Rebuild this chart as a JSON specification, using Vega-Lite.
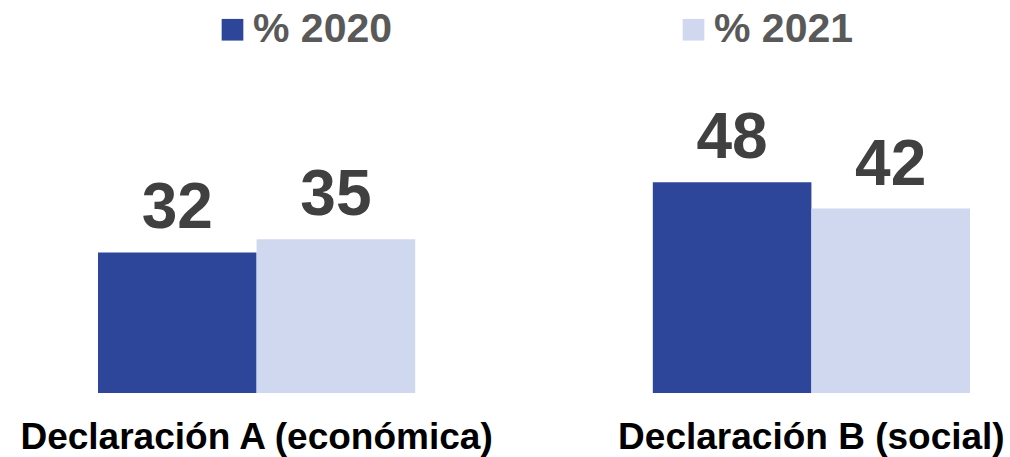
{
  "$schema": "https://vega.github.io/schema/vega-lite/v6.json",
  "width": 872,
  "height": 393,
  "autosize": {"type": "none"},
  "padding": {"left": 98, "top": 0, "right": 40, "bottom": 64},
  "background": "white",
  "config": {
    "view": {"stroke": null},
    "font": "Liberation Sans"
  },
  "data": {
    "values": [
      {"cat": "Declaración A (económica)", "serie": "% 2020", "valor": 32},
      {"cat": "Declaración A (económica)", "serie": "% 2021", "valor": 35},
      {"cat": "Declaración B (social)", "serie": "% 2020", "valor": 48},
      {"cat": "Declaración B (social)", "serie": "% 2021", "valor": 42}
    ]
  },
  "encoding": {
    "x": {
      "field": "cat",
      "type": "nominal",
      "sort": null,
      "scale": {"paddingInner": 0.4283, "paddingOuter": 0},
      "axis": {
        "title": null,
        "domain": false,
        "ticks": false,
        "tickSize": 0,
        "labelAngle": 0,
        "labelFont": "Liberation Sans",
        "labelFontSize": 37,
        "labelFontWeight": "bold",
        "labelColor": "#000000",
        "labelBaseline": "alphabetic",
        "labelPadding": 55,
        "labelLimit": 800,
        "labelOverlap": false
      }
    },
    "xOffset": {"field": "serie", "type": "nominal", "sort": ["% 2020", "% 2021"], "scale": {"paddingInner": 0, "paddingOuter": 0}},
    "y": {
      "field": "valor",
      "type": "quantitative",
      "scale": {"domain": [0, 89.5], "nice": false},
      "axis": null
    }
  },
  "layer": [
    {
      "mark": {"type": "bar"},
      "encoding": {
        "color": {
          "field": "serie",
          "type": "nominal",
          "scale": {"domain": ["% 2020", "% 2021"], "range": ["#2E4699", "#D0D8F0"]},
          "legend": {
            "title": null,
            "orient": "none",
            "legendX": 114,
            "legendY": 9,
            "direction": "horizontal",
            "symbolType": "square",
            "symbolSize": 470,
            "symbolStrokeWidth": 0,
            "labelFont": "Liberation Sans",
            "labelFontSize": 41,
            "labelFontWeight": "bold",
            "labelColor": "#595959",
            "labelOffset": 0,
            "labelLimit": 400,
            "columnPadding": 280
          }
        }
      }
    },
    {
      "mark": {
        "type": "text",
        "baseline": "alphabetic",
        "dy": -24,
        "font": "Liberation Sans",
        "fontSize": 64,
        "fontWeight": "bold",
        "color": "#404040"
      },
      "encoding": {
        "text": {"field": "valor", "type": "quantitative"}
      }
    }
  ]
}
